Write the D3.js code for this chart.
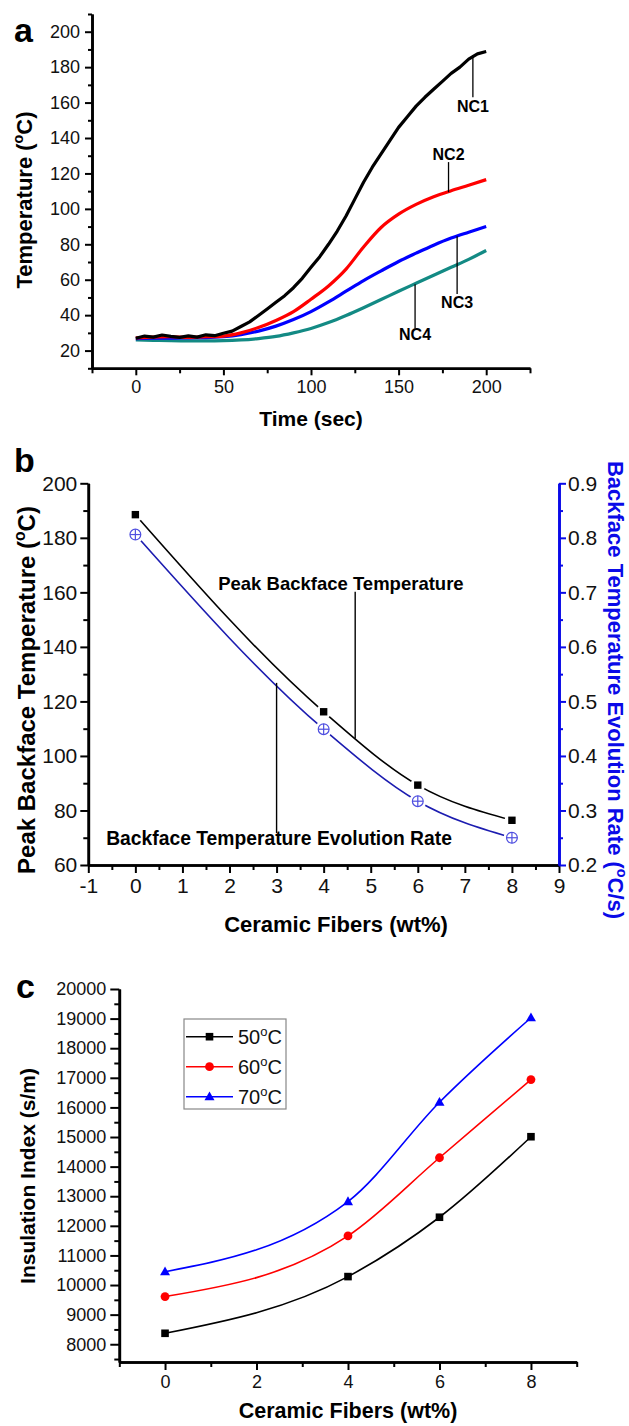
<!DOCTYPE html>
<html><head><meta charset="utf-8">
<script src="https://cdn.jsdelivr.net/npm/d3@7"></script>
<style>body{margin:0;background:#fff}svg{display:block}text{font-family:"Liberation Sans",Arial,sans-serif}</style>
</head><body>
<script>
// ---------- Panel a data ----------
const timeNC1 = [0,5,10,15,20,25,30,35,40,45,50,55,60,65,70,75,80,85,90,95,100,105,110,115,120,125,130,135,140,145,150,155,160,165,170,175,180,185,190,195,200];
const tempNC1 = [27.0,28.2,27.6,28.8,28.0,27.5,28.3,27.6,28.9,28.4,29.8,31.0,33.6,36.2,39.8,43.5,47.3,51.0,55.5,60.8,67.0,73.0,80.0,87.5,96.0,105.5,115.0,123.5,131.0,138.5,146.0,152.0,158.0,163.0,167.5,172.0,176.5,180.0,184.5,187.5,188.8];
const timeA = [0,10,20,30,40,50,60,70,80,90,100,110,120,130,140,150,160,170,180,190,200];
const tempNC2 = [27.2,27.6,27.8,27.5,27.8,28.2,30.0,33.0,37.0,42.0,49.0,56.5,66.0,78.5,89.5,97.0,102.5,106.8,110.2,113.3,116.5];
const tempNC3 = [26.8,27.0,27.0,27.2,27.3,27.8,29.0,31.0,33.8,37.5,42.0,47.5,53.5,59.5,65.0,70.3,75.0,79.5,83.5,86.8,90.0];
const tempNC4 = [26.0,25.8,25.6,25.5,25.5,25.6,26.0,26.8,28.0,30.0,32.5,35.8,39.8,44.2,48.8,53.5,58.0,62.5,67.0,71.5,76.5];
const seriesANames = ["NC1","NC2","NC3","NC4"];
const seriesAColors = ["#000000","#ff0000","#0000ff","#138a84"];
// annotation: label, time, curve value, label-end value, label baseline value
const annotA = [
  {label:"NC1", t:192.4, y1:186.7, y2:163.0, ty:154.6},
  {label:"NC2", t:178.5, y1:109.4, y2:126.4, ty:127.7},
  {label:"NC3", t:183.4, y1:84.5,  y2:52.0,  ty:44.1},
  {label:"NC4", t:159.4, y1:57.5,  y2:32.3,  ty:26.0}
];
const aXMajor = [0,50,100,150,200];
const aXMinor = [-25,25,75,125,175,225];
const aYMajor = [20,40,60,80,100,120,140,160,180,200];
const aYMinor = [10,30,50,70,90,110,130,150,170,190,210];

// ---------- Panel b data ----------
const fibersB = [0,4,6,8];
const peakTemp = [188.5,116.2,89.3,76.4];
const evoRate = [0.806,0.449,0.317,0.250];
const bXMajor = [-1,0,1,2,3,4,5,6,7,8,9];
const bXMinor = [-0.5,0.5,1.5,2.5,3.5,4.5,5.5,6.5,7.5,8.5];
const bYMajor = [60,80,100,120,140,160,180,200];
const bYMinor = [70,90,110,130,150,170,190];
const bRMajor = [0.2,0.3,0.4,0.5,0.6,0.7,0.8,0.9];
const bRMinor = [0.25,0.35,0.45,0.55,0.65,0.75,0.85];

// ---------- Panel c data ----------
const fibersC = [0,4,6,8];
const ins50 = [8370,10285,12290,15010];
const ins60 = [9610,11660,14300,16940];
const ins70 = [10450,12820,16175,19030];
const seriesCNames = ["50","60","70"];
const seriesCColors = ["#000000","#ff0000","#0000ff"];
const cXMajor = [0,2,4,6,8];
const cXMinor = [-1,1,3,5,7,9];
const cYMajor = [8000,9000,10000,11000,12000,13000,14000,15000,16000,17000,18000,19000,20000];
const cYMinor = [7500,8500,9500,10500,11500,12500,13500,14500,15500,16500,17500,18500,19500];

const svg = d3.select("body").append("svg").attr("width",629).attr("height",1426);
const intFmt = d => String(d);
const dec1Fmt = d => d.toFixed(1);

function styleAxis(g, color){
  g.select(".domain").attr("stroke",color).attr("stroke-width",2.6);
  g.selectAll(".tick line").attr("stroke",color).attr("stroke-width",2);
  g.selectAll(".tick text").attr("fill","#111").attr("font-family","Liberation Sans, Arial, sans-serif");
}
function drawAxis(parent, axisFn, scale, major, minor, majLen, minLen, pad, fs, fmt, transform, color){
  color = color || "#000";
  const gm = parent.append("g").attr("transform",transform)
    .call(axisFn(scale).tickValues(minor).tickSize(minLen).tickSizeOuter(0).tickFormat(""));
  styleAxis(gm,color);
  const g = parent.append("g").attr("transform",transform)
    .call(axisFn(scale).tickValues(major).tickSize(majLen).tickSizeOuter(0).tickPadding(pad).tickFormat(fmt));
  styleAxis(g,color);
  g.selectAll(".tick text").attr("font-size",fs);
  return g;
}
function supText(sel, parts, fs){
  parts.forEach(p=>{
    if(p[1]){
      sel.append("tspan").attr("font-size",fs*0.65).attr("dy",-fs*0.42).text(p[0]);
    } else {
      const t = sel.append("tspan").text(p[0]);
      if(p[2]) t.attr("dy",fs*0.42);
    }
  });
}

// =================== Panel a ===================
const xA = d3.scaleLinear([-25,225],[92,530]);
const yA = d3.scaleLinear([10,210],[368.3,14]);
const gA = svg.append("g");
const seriesA = [
  timeNC1.map((t,i)=>[t,tempNC1[i]]),
  timeA.map((t,i)=>[t,tempNC2[i]]),
  timeA.map((t,i)=>[t,tempNC3[i]]),
  timeA.map((t,i)=>[t,tempNC4[i]])
];
[3,2,1,0].forEach(i=>{
  const lineA = d3.line().x(d=>xA(d[0])).y(d=>yA(d[1])).curve(i===0 ? d3.curveLinear : d3.curveMonotoneX);
  gA.append("path").datum(seriesA[i]).attr("d",lineA).attr("fill","none")
    .attr("stroke",seriesAColors[i]).attr("stroke-width",3.2).attr("stroke-linejoin","round");
});
drawAxis(gA, d3.axisBottom, xA, aXMajor, aXMinor, 7, 5, 5, 18, intFmt, `translate(0,${yA(10)})`);
drawAxis(gA, d3.axisLeft, yA, aYMajor, aYMinor, 7, 4, 5, 18, intFmt, `translate(${xA(-25)},0)`);
annotA.forEach(a=>{
  gA.append("line").attr("x1",xA(a.t)).attr("x2",xA(a.t)).attr("y1",yA(a.y1)).attr("y2",yA(a.y2))
    .attr("stroke","#000").attr("stroke-width",1.3);
  gA.append("text").attr("x",xA(a.t)).attr("y",yA(a.ty)).attr("text-anchor","middle")
    .attr("font-size",16).attr("font-weight","bold").text(a.label);
});
gA.append("text").attr("x",xA(100)).attr("y",426).attr("text-anchor","middle")
  .attr("font-size",21).attr("font-weight","bold").text("Time (sec)");
{
  const t = gA.append("text").attr("transform",`translate(32,${yA(105)}) rotate(-90)`)
    .attr("text-anchor","middle").attr("font-size",22).attr("font-weight","bold");
  supText(t,[["Temperature (",false],["o",true],["C)",false,true]],22);
}
gA.append("text").attr("x",14).attr("y",42).attr("font-size",34).attr("font-weight","bold").text("a");

// =================== Panel b ===================
const xB = d3.scaleLinear([-1,9],[88.3,559]);
const yB = d3.scaleLinear([60,200],[865,483.3]);
const yR = d3.scaleLinear([0.2,0.9],[865,483.3]);
const gB = svg.append("g");
const blueLine = "#1c1cb0", blueMark = "#4f4fe0", blueAxis = "#0a0ae8";
gB.append("path").datum(fibersB.map((f,i)=>[f,peakTemp[i]]))
  .attr("d",d3.line().x(d=>xB(d[0])).y(d=>yB(d[1])).curve(d3.curveMonotoneX))
  .attr("fill","none").attr("stroke","#000").attr("stroke-width",1.6);
gB.append("path").datum(fibersB.map((f,i)=>[f,evoRate[i]]))
  .attr("d",d3.line().x(d=>xB(d[0])).y(d=>yR(d[1])).curve(d3.curveMonotoneX))
  .attr("fill","none").attr("stroke",blueLine).attr("stroke-width",1.6);
// gaps around markers
fibersB.forEach((f,i)=>{
  gB.append("circle").attr("cx",xB(f)).attr("cy",yB(peakTemp[i])).attr("r",7.5).attr("fill","#fff");
  gB.append("circle").attr("cx",xB(f)).attr("cy",yR(evoRate[i])).attr("r",8.5).attr("fill","#fff");
});
fibersB.forEach((f,i)=>{
  gB.append("rect").attr("x",xB(f)-3.7).attr("y",yB(peakTemp[i])-3.7).attr("width",7.4).attr("height",7.4).attr("fill","#000");
  const cx = xB(f), cy = yR(evoRate[i]);
  gB.append("circle").attr("cx",cx).attr("cy",cy).attr("r",5.4).attr("fill","none").attr("stroke",blueMark).attr("stroke-width",1.2);
  gB.append("line").attr("x1",cx-5.4).attr("x2",cx+5.4).attr("y1",cy).attr("y2",cy).attr("stroke",blueMark).attr("stroke-width",1.2);
  gB.append("line").attr("x1",cx).attr("x2",cx).attr("y1",cy-5.4).attr("y2",cy+5.4).attr("stroke",blueMark).attr("stroke-width",1.2);
});
drawAxis(gB, d3.axisBottom, xB, bXMajor, bXMinor, 8, 5, 5, 21, intFmt, `translate(0,${yB(60)})`);
drawAxis(gB, d3.axisLeft, yB, bYMajor, bYMinor, 8, 5, 3, 21, intFmt, `translate(${xB(-1)},0)`);
drawAxis(gB, d3.axisRight, yR, bRMajor, bRMinor, 7, 4, 2, 21, dec1Fmt, `translate(${xB(9)},0)`, blueAxis);
// annotations
gB.append("line").attr("x1",xB(4.67)).attr("x2",xB(4.67)).attr("y1",yB(160.2)).attr("y2",yB(106.4)).attr("stroke","#000").attr("stroke-width",1.4);
gB.append("text").attr("x",xB(1.76)).attr("y",yB(160.8)).attr("font-size",18.5).attr("font-weight","bold").text("Peak Backface Temperature");
gB.append("line").attr("x1",xB(3.0)).attr("x2",xB(3.0)).attr("y1",yB(126.8)).attr("y2",yB(71.7)).attr("stroke","#000").attr("stroke-width",1.4);
gB.append("text").attr("x",xB(-0.62)).attr("y",yB(67.3)).attr("font-size",19.3).attr("font-weight","bold").text("Backface Temperature Evolution Rate");
gB.append("text").attr("x",336).attr("y",932).attr("text-anchor","middle")
  .attr("font-size",22).attr("font-weight","bold").text("Ceramic Fibers (wt%)");
{
  const t = gB.append("text").attr("transform",`translate(35,${690}) rotate(-90)`)
    .attr("text-anchor","middle").attr("font-size",24).attr("font-weight","bold");
  supText(t,[["Peak Backface Temperature (",false],["o",true],["C)",false,true]],24);
  const r = gB.append("text").attr("transform",`translate(608,${690}) rotate(90)`)
    .attr("text-anchor","middle").attr("font-size",22).attr("font-weight","bold").attr("fill",blueAxis);
  supText(r,[["Backface Temperature Evolution Rate (",false],["o",true],["C/s)",false,true]],22);
}
gB.append("text").attr("x",14).attr("y",472).attr("font-size",34).attr("font-weight","bold").text("b");

// =================== Panel c ===================
const xC = d3.scaleLinear([-1,9],[119.3,576.7]);
const yC = d3.scaleLinear([7400,20000],[1362,989]);
const gC = svg.append("g");
const seriesC = [ins50, ins60, ins70];
seriesC.forEach((vals,si)=>{
  gC.append("path").datum(fibersC.map((f,i)=>[f,vals[i]]))
    .attr("d",d3.line().x(d=>xC(d[0])).y(d=>yC(d[1])).curve(d3.curveMonotoneX))
    .attr("fill","none").attr("stroke",seriesCColors[si]).attr("stroke-width",1.6);
});
function markerC(g, si, cx, cy, scale){
  const s = scale||1;
  if(si===0) g.append("rect").attr("x",cx-3.8*s).attr("y",cy-3.8*s).attr("width",7.6*s).attr("height",7.6*s).attr("fill",seriesCColors[0]);
  else if(si===1) g.append("circle").attr("cx",cx).attr("cy",cy).attr("r",4.4*s).attr("fill",seriesCColors[1]);
  else g.append("path").attr("d",`M${cx},${cy-5.2*s}L${cx+5*s},${cy+3.6*s}L${cx-5*s},${cy+3.6*s}Z`).attr("fill",seriesCColors[2]);
}
seriesC.forEach((vals,si)=>{
  fibersC.forEach((f,i)=>markerC(gC,si,xC(f),yC(vals[i])));
});
drawAxis(gC, d3.axisBottom, xC, cXMajor, cXMinor, 8, 5, 5, 18, intFmt, `translate(0,${yC(7400)})`);
drawAxis(gC, d3.axisLeft, yC, cYMajor, cYMinor, 9, 5, 4, 18, intFmt, `translate(${xC(-1)},0)`);
// legend
const leg = gC.append("g");
leg.append("rect").attr("x",184).attr("y",1019).attr("width",102).attr("height",90)
  .attr("fill","#fff").attr("stroke","#888").attr("stroke-width",1.2);
seriesCNames.forEach((n,i)=>{
  const ly = 1036.7 + i*30;
  leg.append("line").attr("x1",186).attr("x2",233).attr("y1",ly).attr("y2",ly).attr("stroke",seriesCColors[i]).attr("stroke-width",1.6);
  markerC(leg,i,209.5,ly,1);
  const t = leg.append("text").attr("x",238).attr("y",ly+7.5).attr("font-size",20).attr("fill","#111");
  supText(t,[[n,false],["o",true],["C",false,true]],20);
});
gC.append("text").attr("x",xC(4)).attr("y",1418).attr("text-anchor","middle")
  .attr("font-size",21.5).attr("font-weight","bold").text("Ceramic Fibers (wt%)");
gC.append("text").attr("transform",`translate(35,${1176}) rotate(-90)`)
  .attr("text-anchor","middle").attr("font-size",21).attr("font-weight","bold").text("Insulation Index (s/m)");
gC.append("text").attr("x",16).attr("y",998).attr("font-size",34).attr("font-weight","bold").text("c");
</script>
</body></html>
